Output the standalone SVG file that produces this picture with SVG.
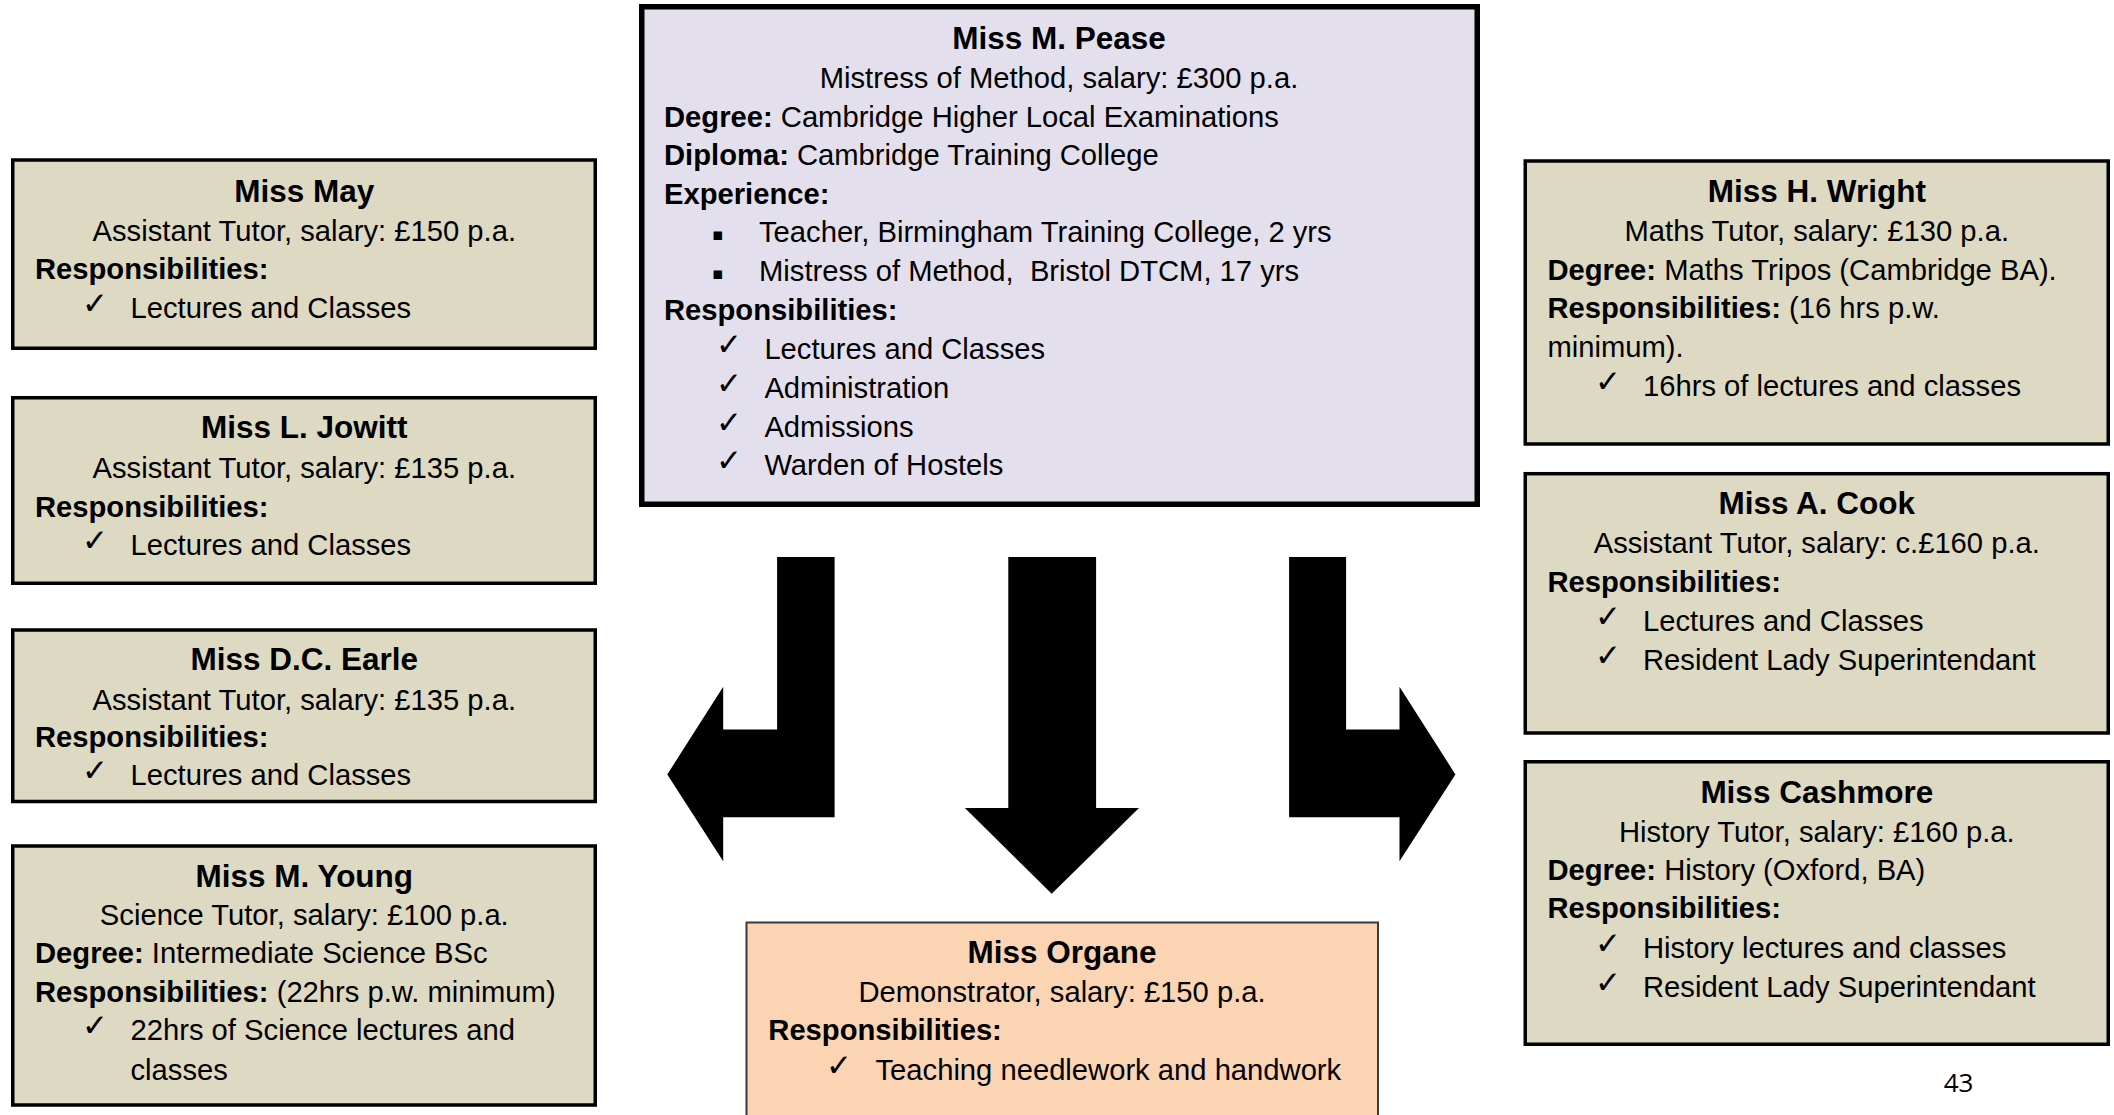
<svg xmlns="http://www.w3.org/2000/svg" width="2114" height="1115" viewBox="0 0 2114 1115">
<style>
.tan{fill:#DDD9C3;stroke:#000;stroke-width:3.5}
.lav{fill:#E4DFEC;stroke:#000;stroke-width:5.5}
.peach{fill:#FBD4B4;stroke:#3a3a3a;stroke-width:2}
text{font-family:"Liberation Sans",Arial,sans-serif;font-size:29.2px;fill:#000}
.h{font-weight:bold;font-size:31.5px;text-anchor:middle}
.c{text-anchor:middle}
.b{font-weight:bold}
.k{font-family:"DejaVu Sans",sans-serif;font-size:31px}
.q{font-family:"DejaVu Sans",sans-serif;font-size:17px}
.pre{white-space:pre}
.arrow{fill:#000}
.pg{font-family:"Open Sans",sans-serif;font-size:26px}
</style>

<g id="connectors">
<polygon class="arrow" points="834.6,556.9 834.6,817.3 723.2,817.3 723.2,861.3 667.3,774.4 723.2,686.7 723.2,729.6 777.1,729.6 777.1,556.9"/>
<polygon class="arrow" points="1008.3,556.9 1096.1,556.9 1096.1,808 1139,808 1051.7,893.8 964.9,808 1008.3,808"/>
<polygon class="arrow" points="1289.1,556.9 1346.1,556.9 1346.1,729.6 1399.5,729.6 1399.5,686.7 1455.4,774.4 1399.5,861.3 1399.5,817.3 1289.1,817.3"/>
</g>

<g id="node-pease">
<rect class="lav" x="641.75" y="6.75" width="835.5" height="497.5"/>
<text class="h" x="1059" y="49.3">Miss M. Pease</text>
<text class="c" x="1059" y="88.3">Mistress of Method, salary: £300 p.a.</text>
<text x="664" y="126.7"><tspan class="b">Degree:</tspan> Cambridge Higher Local Examinations</text>
<text x="664" y="165"><tspan class="b">Diploma:</tspan> Cambridge Training College</text>
<text class="b" x="664" y="203.5">Experience:</text>
<text class="q" x="712" y="240">▪</text>
<text x="759" y="241.7">Teacher, Birmingham Training College, 2 yrs</text>
<text class="q" x="712" y="279.3">▪</text>
<text class="pre" x="759" y="281">Mistress of Method,  Bristol DTCM, 17 yrs</text>
<text class="b" x="664" y="320">Responsibilities:</text>
<text class="k" x="716" y="355">✓</text>
<text x="764.4" y="359">Lectures and Classes</text>
<text class="k" x="716" y="394">✓</text>
<text x="764.4" y="398">Administration</text>
<text class="k" x="716" y="432.7">✓</text>
<text x="764.4" y="436.7">Admissions</text>
<text class="k" x="716" y="471">✓</text>
<text x="764.4" y="475">Warden of Hostels</text>
</g>

<g id="node-may">
<rect class="tan" x="12.75" y="160" width="582.5" height="188.25"/>
<text class="h" x="304.3" y="201.7">Miss May</text>
<text class="c" x="304.3" y="240.7">Assistant Tutor, salary: £150 p.a.</text>
<text class="b" x="35" y="279.3">Responsibilities:</text>
<text class="k" x="82" y="314.3">✓</text>
<text x="130.5" y="318.3">Lectures and Classes</text>
</g>

<g id="node-jowitt">
<rect class="tan" x="12.75" y="397.75" width="582.5" height="185.5"/>
<text class="h" x="304.3" y="438.3">Miss L. Jowitt</text>
<text class="c" x="304.3" y="478.3">Assistant Tutor, salary: £135 p.a.</text>
<text class="b" x="35" y="516.7">Responsibilities:</text>
<text class="k" x="82" y="551">✓</text>
<text x="130.5" y="555">Lectures and Classes</text>
</g>

<g id="node-earle">
<rect class="tan" x="12.75" y="630" width="582.5" height="171.5"/>
<text class="h" x="304.3" y="670">Miss D.C. Earle</text>
<text class="c" x="304.3" y="710">Assistant Tutor, salary: £135 p.a.</text>
<text class="b" x="35" y="746.7">Responsibilities:</text>
<text class="k" x="82" y="781">✓</text>
<text x="130.5" y="785">Lectures and Classes</text>
</g>

<g id="node-young">
<rect class="tan" x="12.75" y="846" width="582.5" height="259"/>
<text class="h" x="304.3" y="886.7">Miss M. Young</text>
<text class="c" x="304.3" y="925">Science Tutor, salary: £100 p.a.</text>
<text x="35" y="963.3"><tspan class="b">Degree:</tspan> Intermediate Science BSc</text>
<text x="35" y="1001.7"><tspan class="b">Responsibilities:</tspan> (22hrs p.w. minimum)</text>
<text class="k" x="82" y="1036">✓</text>
<text x="130.5" y="1040">22hrs of Science lectures and</text>
<text x="130.5" y="1080">classes</text>
</g>

<g id="node-wright">
<rect class="tan" x="1525.25" y="161" width="583" height="283"/>
<text class="h" x="1816.8" y="201.8">Miss H. Wright</text>
<text class="c" x="1816.8" y="240.6">Maths Tutor, salary: £130 p.a.</text>
<text x="1547.4" y="279.5"><tspan class="b">Degree:</tspan> Maths Tripos (Cambridge BA).</text>
<text x="1547.4" y="318.3"><tspan class="b">Responsibilities:</tspan> (16 hrs p.w.</text>
<text x="1547.4" y="357.2">minimum).</text>
<text class="k" x="1595" y="392">✓</text>
<text x="1643" y="396">16hrs of lectures and classes</text>
</g>

<g id="node-cook">
<rect class="tan" x="1525.25" y="473.7" width="583" height="259.3"/>
<text class="h" x="1816.8" y="514.4">Miss A. Cook</text>
<text class="c" x="1816.8" y="553.3">Assistant Tutor, salary: c.£160 p.a.</text>
<text class="b" x="1547.4" y="592.1">Responsibilities:</text>
<text class="k" x="1595" y="627">✓</text>
<text x="1643" y="631">Lectures and Classes</text>
<text class="k" x="1595" y="665.8">✓</text>
<text x="1643" y="669.8">Resident Lady Superintendant</text>
</g>

<g id="node-cashmore">
<rect class="tan" x="1525.25" y="761.75" width="583" height="282.5"/>
<text class="h" x="1816.8" y="802.7">Miss Cashmore</text>
<text class="c" x="1816.8" y="841.7">History Tutor, salary: £160 p.a.</text>
<text x="1547.4" y="880"><tspan class="b">Degree:</tspan> History (Oxford, BA)</text>
<text class="b" x="1547.4" y="918.3">Responsibilities:</text>
<text class="k" x="1595" y="954.3">✓</text>
<text x="1643" y="958.3">History lectures and classes</text>
<text class="k" x="1595" y="992.7">✓</text>
<text x="1643" y="996.7">Resident Lady Superintendant</text>
</g>

<g id="node-organe">
<rect class="peach" x="746.5" y="922.5" width="631.5" height="200"/>
<text class="h" x="1062" y="963">Miss Organe</text>
<text class="c" x="1062" y="1001.7">Demonstrator, salary: £150 p.a.</text>
<text class="b" x="768.3" y="1040">Responsibilities:</text>
<text class="k" x="826" y="1076">✓</text>
<text x="875.5" y="1080">Teaching needlework and handwork</text>
</g>

<text class="pg c" x="1958.5" y="1091.7">43</text>
</svg>
